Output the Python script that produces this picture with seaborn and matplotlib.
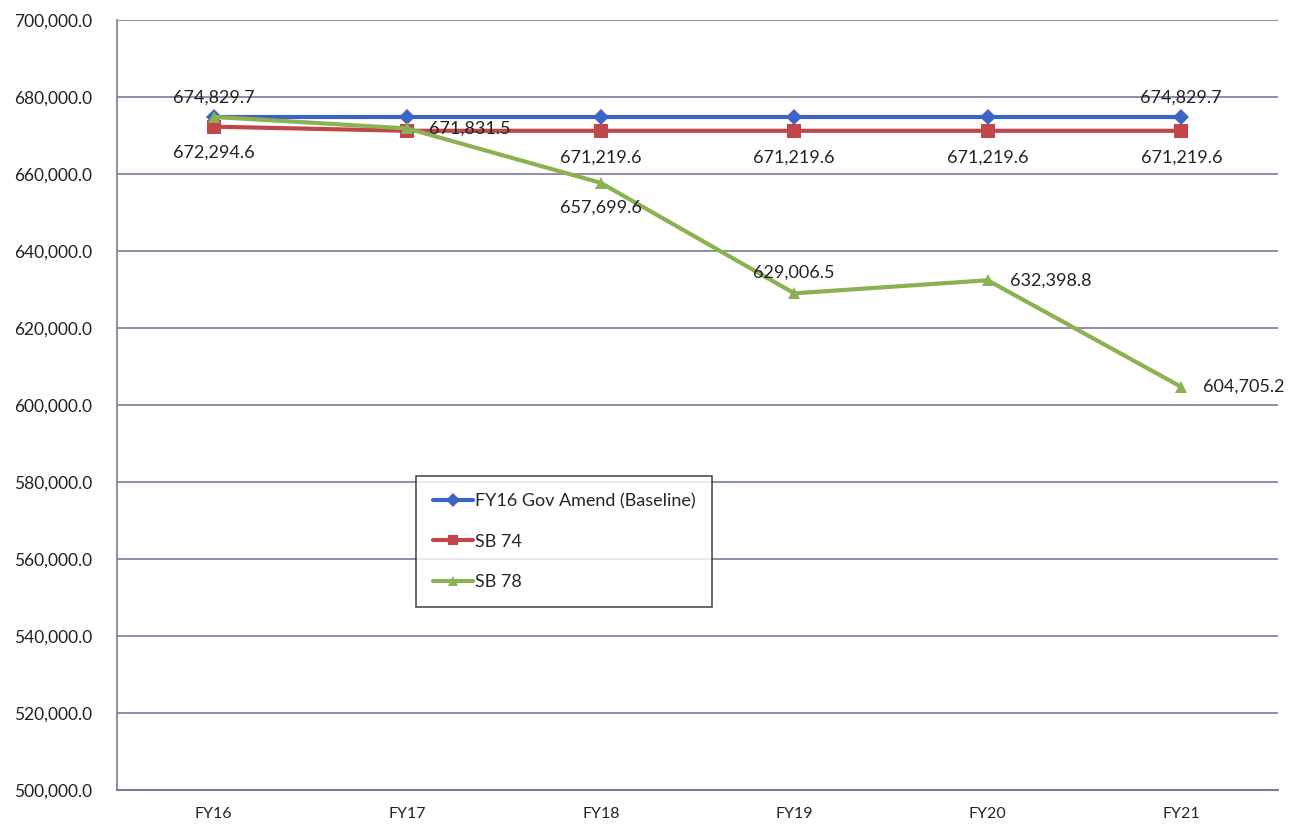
import matplotlib
matplotlib.use("Agg")
import matplotlib.pyplot as plt
import seaborn as sns
import pandas as pd
from matplotlib.ticker import FuncFormatter

years = ["FY16", "FY17", "FY18", "FY19", "FY20", "FY21"]
baseline = [674829.7, 674829.7, 674829.7, 674829.7, 674829.7, 674829.7]
sb74 = [672294.6, 671219.6, 671219.6, 671219.6, 671219.6, 671219.6]
sb78 = [674829.7, 671831.5, 657699.6, 629006.5, 632398.8, 604705.2]
series_names = ["FY16 Gov Amend (Baseline)", "SB 74", "SB 78"]

sns.set_theme(style="white")
plt.rcParams["font.family"] = ["Lato", "DejaVu Sans"]

colors = {series_names[0]: "#3e63c6", series_names[1]: "#c0464a", series_names[2]: "#8ab251"}
markers = {series_names[0]: "D", series_names[1]: "s", series_names[2]: "^"}
marker_sizes = {series_names[0]: 8, series_names[1]: 10, series_names[2]: 9}

rows = []
for name, vals in zip(series_names, [baseline, sb74, sb78]):
    for i, (yr, v) in enumerate(zip(years, vals)):
        rows.append({"pos": i, "year": yr, "value": v, "series": name})
df = pd.DataFrame(rows)

fig = plt.figure(figsize=(13, 8.3), dpi=100)
ax = fig.add_axes([117 / 1300, 1 - 790 / 830, 1161 / 1300, 770 / 830])

sns.lineplot(data=df, x="pos", y="value", hue="series", style="series",
             markers=markers, dashes=False, palette=colors, linewidth=3,
             markersize=9, markeredgewidth=0, ax=ax, sort=False)

# per-series marker sizes
for line, name in zip(ax.lines, series_names):
    line.set_markersize(marker_sizes[name])

ax.set_xlim(-0.5, 5.5)
ax.set_ylim(500000, 700000)
ax.set_yticks(range(500000, 700001, 20000))
ax.yaxis.set_major_formatter(FuncFormatter(lambda v, p: f"{v:,.1f}"))
ax.set_xticks(range(len(years)))
ax.set_xticklabels(years)
ax.tick_params(axis="y", labelsize=12.5, pad=18, length=0, colors="#222222")
ax.tick_params(axis="x", labelsize=11.5, pad=12, length=0, colors="#222222")
ax.set_xlabel("")
ax.set_ylabel("")

ax.grid(axis="y", color="#7c7c9c", linewidth=1.2)
ax.grid(axis="x", visible=False)
for side in ["top", "right"]:
    ax.spines[side].set_visible(False)
ax.spines["left"].set_color("#7c7c9c")
ax.spines["left"].set_linewidth(1.2)
ax.spines["bottom"].set_color("#7c7c9c")
ax.spines["bottom"].set_linewidth(1.5)

# data labels: (series values, index, offset in points, alignment)
label_specs = [
    (baseline, 0, (0, 14), "center"),
    (baseline, 5, (0, 14), "center"),
    (sb74, 0, (0, -19), "center"),
    (sb74, 2, (0, -19), "center"),
    (sb74, 3, (0, -19), "center"),
    (sb74, 4, (0, -19), "center"),
    (sb74, 5, (0, -19), "center"),
    (sb78, 1, (16, 0), "left"),
    (sb78, 2, (0, -18), "center"),
    (sb78, 3, (0, 15), "center"),
    (sb78, 4, (16, 0), "left"),
    (sb78, 5, (16, 0), "left"),
]
for vals, i, off, ha in label_specs:
    ax.annotate(f"{vals[i]:,.1f}", xy=(i, vals[i]), xytext=off,
                textcoords="offset points", ha=ha, va="center",
                fontsize=13, color="#222222")

handles, labels = ax.get_legend_handles_labels()
for h in handles:
    h.set_markersize(7)
leg = ax.legend(handles, labels, loc="upper left",
                bbox_to_anchor=(299 / 1161, (790 - 476) / 770),
                frameon=True, fancybox=False, edgecolor="#222222",
                fontsize=13, labelspacing=1.35, handlelength=2.2,
                handletextpad=0.1, borderpad=0.95, borderaxespad=0)
leg.get_frame().set_linewidth(1.2)
leg.get_frame().set_facecolor("white")

fig.savefig("out.png", dpi=100)
